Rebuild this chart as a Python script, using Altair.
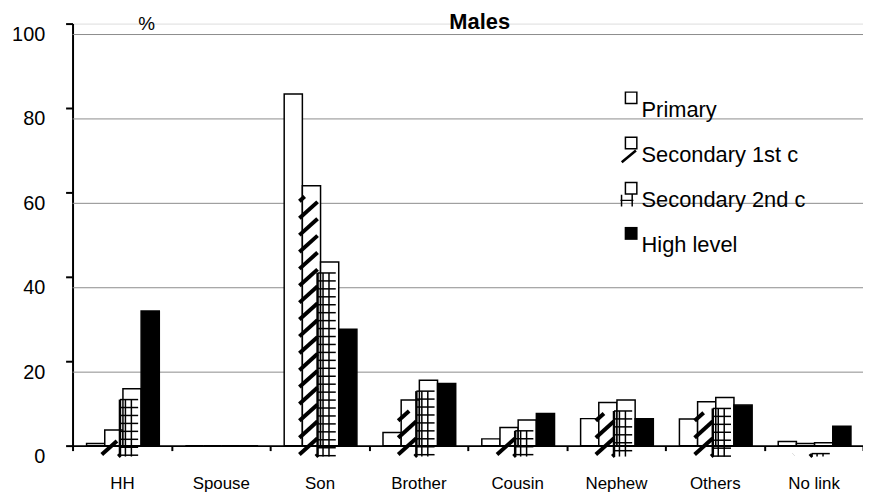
import altair as alt
import pandas as pd

# ---------------- data ----------------
categories = ["HH", "Spouse", "Son", "Brother", "Cousin", "Nephew", "Others", "No link"]
series_names = ["Primary", "Secondary 1st c", "Secondary 2nd c", "High level"]
primary = [0.5, 0, 83.3, 3.1, 1.6, 6.4, 6.3, 1.0]
secondary_1st = [3.7, 0, 61.6, 10.8, 4.3, 10.2, 10.4, 0.5]
secondary_2nd = [13.5, 0, 43.5, 15.5, 6.1, 10.8, 11.4, 0.7]
high_level = [31.9, 0, 27.6, 14.7, 7.6, 6.4, 9.6, 4.6]
y_ticks = [0, 20, 40, 60, 80, 100]
grid_values = [20, 40, 60, 80, 100]

# ---------------- layout constants ----------------
FONT = "Liberation Sans"
PLOT_W = 796
PLOT_H = 425
PX_X = PLOT_W / len(categories)   # pixels per category unit
PX_Y = PLOT_H / 100.0             # pixels per percent
BAR_W = 0.184                      # bar width in category units
SHIFT = 0.01
HATCH_DX = -3
HATCH_DY = 11

series_values = [primary, secondary_1st, secondary_2nd, high_level]

bar_rows = []
for i, cat in enumerate(categories):
    for j, name in enumerate(series_names):
        left = i - 2 * BAR_W + j * BAR_W + SHIFT
        bar_rows.append({"category": cat, "series": name, "value": series_values[j][i],
                         "x0": left, "x1": left + BAR_W, "base": 0.0})
bars_df = pd.DataFrame(bar_rows)

# ---------------- hatch patterns (derived from the bar values) ----------------
bar_px = BAR_W * PX_X
STRIPE_GAP = 17.0
STRIPE_SLOPE = 0.9
stripe_rows = []
for r in bar_rows:
    if r["series"] != series_names[1] or r["value"] <= 0:
        continue
    h = r["value"] * PX_Y
    c = 2.0 - STRIPE_GAP
    while c < h:
        xa = max(0.0, -c / STRIPE_SLOPE)
        xb = min(bar_px, (h - c) / STRIPE_SLOPE)
        if xb > xa:
            stripe_rows.append({"x": r["x0"] + xa / PX_X, "x2": r["x0"] + xb / PX_X,
                                "y": (c + xa * STRIPE_SLOPE) / PX_Y,
                                "y2": (c + xb * STRIPE_SLOPE) / PX_Y})
        c += STRIPE_GAP
stripes_df = pd.DataFrame(stripe_rows)

GRID_GAP = 8.0
thin_rows, thick_rows = [], []
for r in bar_rows:
    if r["series"] != series_names[2] or r["value"] <= 0:
        continue
    h = r["value"] * PX_Y
    yy = h
    while yy >= -0.1:
        thin_rows.append({"x": r["x0"], "x2": r["x1"], "y": yy / PX_Y, "y2": yy / PX_Y})
        yy -= GRID_GAP
    for xp in (5.5, 11.5):
        thin_rows.append({"x": r["x0"] + xp / PX_X, "x2": r["x0"] + xp / PX_X,
                          "y": 0.0, "y2": r["value"]})
    thick_rows.append({"x": r["x0"], "x2": r["x0"], "y": 0.0, "y2": r["value"]})
thin_df = pd.DataFrame(thin_rows)
thick_df = pd.DataFrame(thick_rows)

# ---------------- scales / axes ----------------
x_scale = alt.Scale(domain=[-0.5, len(categories) - 0.5], nice=False, zero=False)
y_scale = alt.Scale(domain=[0, 100], nice=False, zero=False)

label_expr = "[" + ",".join("'" + c + "'" for c in categories) + "][round(datum.value + 0.5)] || ''"
x_axis = alt.Axis(values=[k - 0.5 for k in range(len(categories) + 1)], labelExpr=label_expr,
                  labelOffset=PX_X / 2, labelFlush=False, labelOverlap=False,
                  tickSize=5, tickWidth=2, tickColor="black", domainColor="black", domainWidth=2,
                  labelFontSize=17, labelFont=FONT, labelColor="black", labelPadding=25,
                  grid=False, title=None)
y_axis = alt.Axis(values=y_ticks, tickSize=7, tickWidth=2, tickColor="black",
                  domainColor="black", domainWidth=2, labelFontSize=20, labelFont=FONT,
                  labelColor="black", labelPadding=21, labelOffset=11, grid=False,
                  title="%", titleAngle=0, titleX=74, titleY=6, titleAlign="center",
                  titleBaseline="alphabetic", titleFontSize=19, titleFontWeight="normal",
                  titleFont=FONT, titleColor="black")

fill_scale = alt.Scale(domain=series_names, range=["white", "white", "white", "black"])

# ---------------- legend (drawn as marks) ----------------
# symbols: black-filled paths (outlined squares with hatch hints), raised above the labels
U = 1.82
T = 0.23


def ring(u):
    outer = f"M-1,{-1 - u}H1V{1 - u}H-1Z"
    inner = f"M{-1 + T},{-1 + T - u}V{1 - T - u}H{1 - T}V{-1 + T - u}Z"
    return outer + inner


solid = f"M-1,{-1 - U}H1V{1 - U}H-1Z"
slash = "M-1.58,1.0L0.62,-0.8L0.87,-0.49L-1.33,1.31Z"
h_mark = ("M-1.6,-0.8H-1.37V1.0H-1.6Z"
          "M0.05,-0.8H0.28V1.0H0.05Z"
          "M-1.66,-0.05H0.35V0.18H-1.66Z")
legend_paths = [ring(U), ring(U) + slash, ring(U) + h_mark, solid]
shape_scale = alt.Scale(domain=series_names, range=legend_paths)

legend_df = pd.DataFrame({"series": series_names, "rank": list(range(len(series_names)))})
LEG_SYMBOL_X = 562.5
LEG_TEXT_X = 573
LEG_Y0 = 86.6
LEG_STEP = 45.5

legend_symbols = alt.Chart(legend_df).transform_calculate(
    ly=f"{LEG_Y0} + {LEG_STEP} * datum.rank"
).mark_point(filled=True, fill="black", strokeWidth=0, opacity=1, size=169).encode(
    x=alt.value(LEG_SYMBOL_X),
    y=alt.Y("ly:Q", scale=None, axis=None),
    shape=alt.Shape("series:N", scale=shape_scale, legend=None),
)
legend_text = alt.Chart(legend_df).transform_calculate(
    ly=f"{LEG_Y0} + {LEG_STEP} * datum.rank"
).mark_text(align="left", baseline="middle", fontSize=22, font=FONT, color="black").encode(
    x=alt.value(LEG_TEXT_X),
    y=alt.Y("ly:Q", scale=None, axis=None),
    text="series:N",
)

# ---------------- layers ----------------
grid = alt.Chart(pd.DataFrame({"g": grid_values})).mark_rule(
    color="#8c8c8c", strokeWidth=1, yOffset=HATCH_DY
).encode(y=alt.Y("g:Q", scale=y_scale, axis=y_axis))

bars = alt.Chart(bars_df).mark_rect(stroke="black", strokeWidth=1.5).encode(
    x=alt.X("x0:Q", scale=x_scale, axis=x_axis),
    x2="x1:Q",
    y=alt.Y("value:Q", scale=y_scale, axis=y_axis),
    y2="base:Q",
    fill=alt.Fill("series:N", scale=fill_scale, legend=None),
)


def hatch(df, width):
    return alt.Chart(df).mark_rule(
        color="black", strokeWidth=width, xOffset=HATCH_DX, x2Offset=HATCH_DX,
        yOffset=HATCH_DY, y2Offset=HATCH_DY
    ).encode(
        x=alt.X("x:Q", scale=x_scale, axis=x_axis),
        x2="x2:Q",
        y=alt.Y("y:Q", scale=y_scale, axis=y_axis),
        y2="y2:Q",
    )


chart = alt.layer(
    grid, bars, hatch(stripes_df, 4), hatch(thin_df, 1.5), hatch(thick_df, 2.5),
    legend_symbols, legend_text
).properties(
    width=PLOT_W,
    height=PLOT_H,
    autosize=alt.AutoSizeParams(type="none"),
    padding={"left": 65, "top": 14, "right": 0, "bottom": 46},
    title=alt.TitleParams("Males", anchor="middle", fontSize=22, fontWeight="bold", font=FONT,
                          color="black", offset=0, dy=36, dx=12, baseline="alphabetic"),
).configure_view(stroke=None).configure(font=FONT)

chart.save("out.html", embed_options={"renderer": "svg", "actions": False})
